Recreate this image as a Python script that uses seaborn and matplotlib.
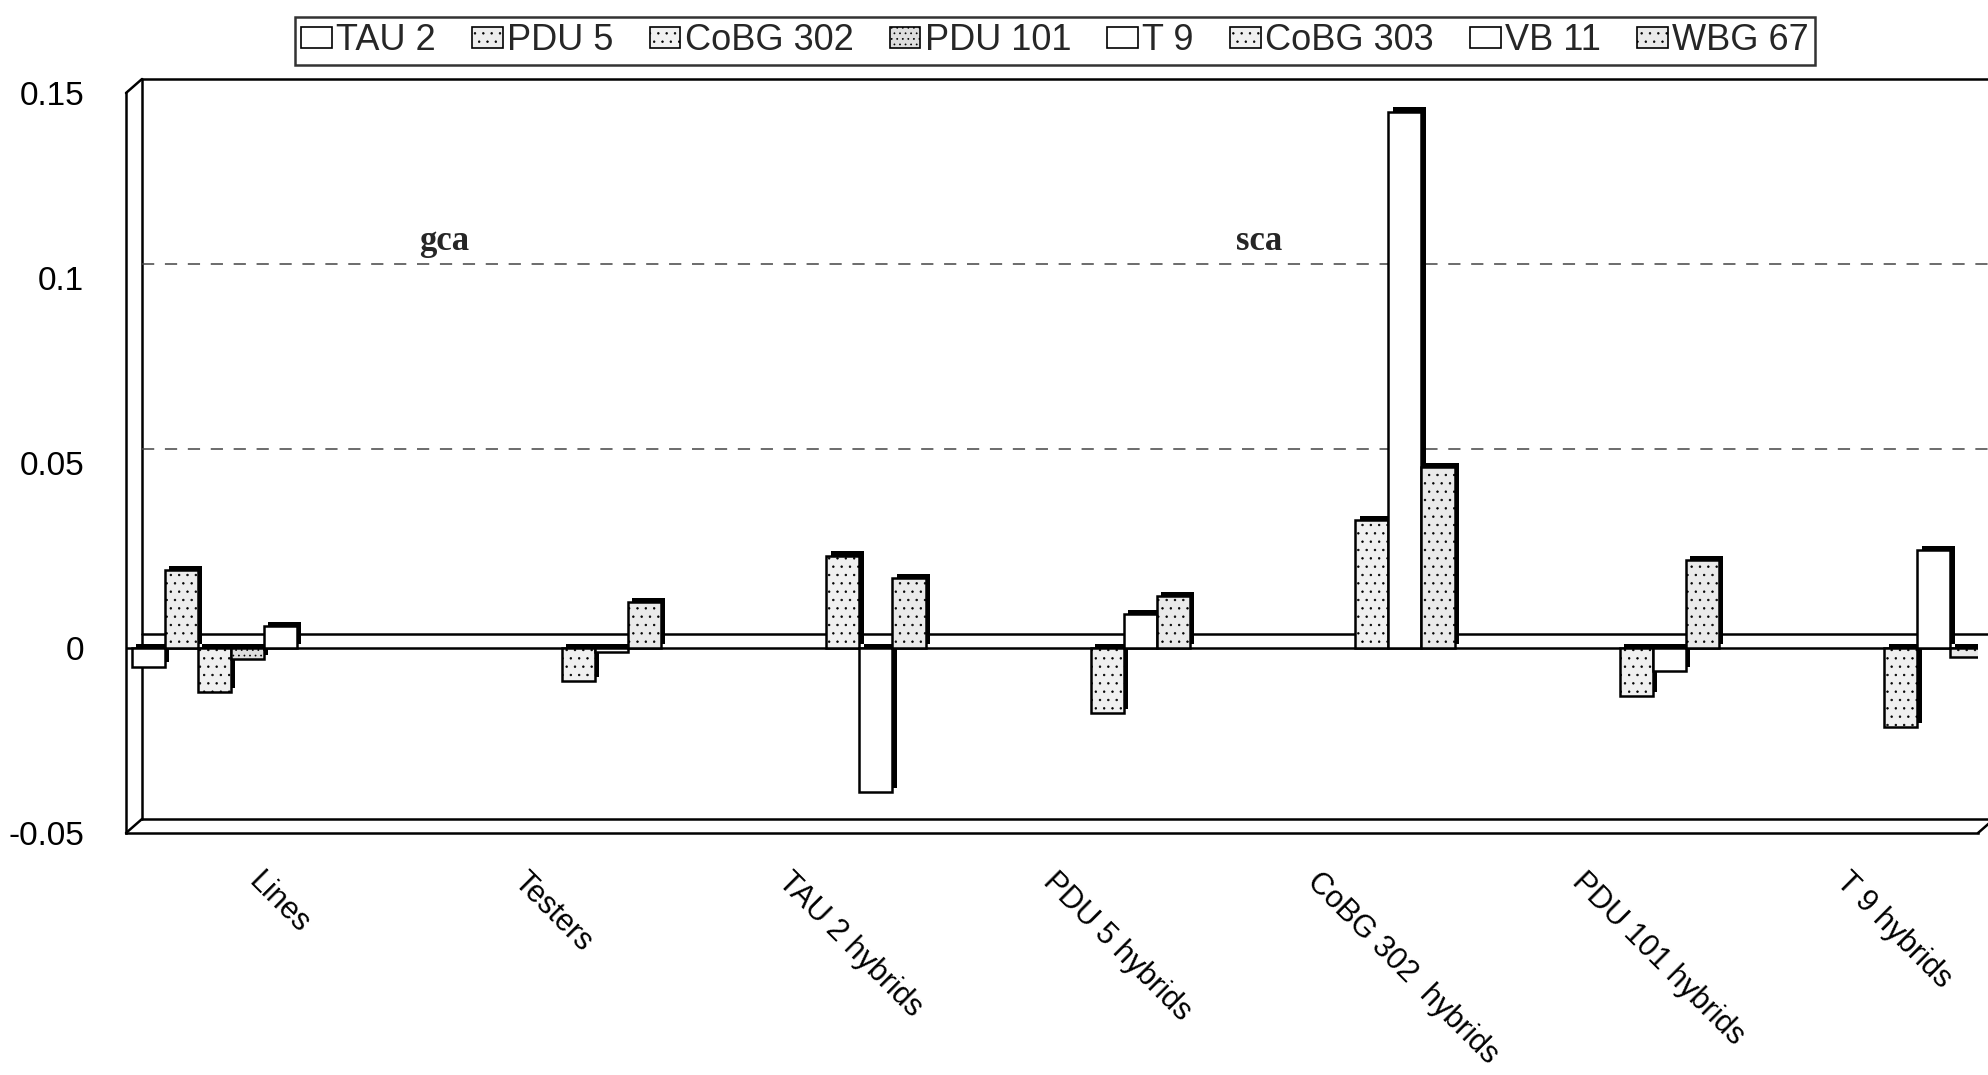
import numpy as np
import pandas as pd
import seaborn as sns
import matplotlib
matplotlib.use("Agg")
import matplotlib.pyplot as plt
import matplotlib.patheffects as pe
from matplotlib.patches import Patch
from matplotlib.lines import Line2D
from matplotlib.transforms import ScaledTranslation

# ---------------- data ----------------
categories = ["Lines", "Testers", "TAU 2 hybrids", "PDU 5 hybrids",
              "CoBG 302  hybrids", "PDU 101 hybrids", "T 9 hybrids"]
series = ["TAU 2", "PDU 5", "CoBG 302", "PDU 101", "T 9", "CoBG 303", "VB 11", "WBG 67"]
nan = np.nan
tau2 = [-0.005, nan, nan, nan, nan, nan, nan]
pdu5 = [0.021, nan, nan, nan, nan, nan, nan]
cobg302 = [-0.012, nan, nan, nan, nan, nan, nan]
pdu101 = [-0.003, nan, nan, nan, nan, nan, nan]
t9 = [0.006, nan, nan, nan, nan, nan, nan]
cobg303 = [nan, -0.009, 0.025, -0.0176, 0.0346, -0.013, -0.0214]
vb11 = [nan, -0.001, -0.039, 0.0092, 0.145, -0.0062, 0.0265]
wbg67 = [nan, 0.0125, 0.019, 0.014, 0.0488, 0.0238, -0.0023]
yticks = [-0.05, 0, 0.05, 0.1, 0.15]
ytick_labels = ["-0.05", "0", "0.05", "0.1", "0.15"]

values = [tau2, pdu5, cobg302, pdu101, t9, cobg303, vb11, wbg67]
df = pd.DataFrame(
    [(c, s, v) for s, vals in zip(series, values) for c, v in zip(categories, vals)],
    columns=["category", "series", "value"],
).dropna()

# ---------------- style ----------------
face = ["#ffffff", "#ededed", "#f0f0f0", "#dedede", "#ffffff", "#f0f0f0", "#ffffff", "#eaeaea"]
hatch = [None, "..", "..", "...", None, "..", None, ".."]

sns.set_theme(style="white")
plt.rcParams["font.family"] = ["Liberation Sans", "DejaVu Sans"]
plt.rcParams["hatch.color"] = "#9a9a9a"
plt.rcParams["hatch.linewidth"] = 0.5

W, H = 1988, 1075
fig = plt.figure(figsize=(W / 100, H / 100), dpi=100)
ax_left, ax_right, ax_top, ax_bot = 126, 1978, 93, 833
ax = fig.add_axes([ax_left / W, 1 - ax_bot / H, (ax_right - ax_left) / W, (ax_bot - ax_top) / H])

sns.barplot(data=df, x="category", y="value", hue="series", order=categories,
            hue_order=series, palette=face, width=1.0, edgecolor="black",
            linewidth=1.8, legend=False, ax=ax, zorder=3, err_kws={"linewidth": 0})

shadow = [pe.SimplePatchShadow(offset=(3.0, 3.0), shadow_rgbFace="black", alpha=1.0), pe.Normal()]
for cont, h in zip(ax.containers, hatch):
    for p in cont.patches:
        if h:
            p.set_hatch(h)
        p.set_path_effects(shadow)

ax.set_xlim(-0.5227, 6.479)
ax.set_ylim(-0.05, 0.15)
ax.set_yticks(yticks)
ax.set_yticklabels(ytick_labels)
ax.set_xlabel("")
ax.set_ylabel("")
ax.tick_params(axis="y", length=0, pad=30, labelsize=24, colors="black")
ax.tick_params(axis="x", length=0, pad=24, labelsize=22, colors="black")
for lab in ax.get_xticklabels():
    lab.set_rotation(-45)
    lab.set_ha("left")
    lab.set_va("top")
    lab.set_rotation_mode("anchor")

for s in ["top", "right"]:
    ax.spines[s].set_visible(False)
for s in ["left", "bottom"]:
    ax.spines[s].set_color("black")
    ax.spines[s].set_linewidth(1.8)

# 3D back wall / floor decoration (offset up-right)
off = ScaledTranslation(0.16, 0.14, fig.dpi_scale_trans)
tb = ax.transAxes + off
ty = ax.get_yaxis_transform()
lk = dict(color="black", linewidth=1.8, clip_on=False, zorder=1)
ax.add_line(Line2D([0, 1.02], [1, 1], transform=tb, **lk))
ax.add_line(Line2D([0, 0], [0, 1], transform=tb, **lk))
ax.add_line(Line2D([0, 1.02], [0, 0], transform=tb, **lk))
for (xx, yy) in ((0, 0), (0, 1), (1, 0)):
    p0 = ax.transAxes.transform((xx, yy))
    p1 = tb.transform((xx, yy))
    fig.add_artist(Line2D([p0[0] / W, p1[0] / W], [p0[1] / H, p1[1] / H],
                          transform=fig.transFigure, color="black", linewidth=1.8))
# zero floor (front and back edges)
ax.add_line(Line2D([0, 1], [0, 0], transform=ty, color="black", linewidth=1.8, zorder=2))
ax.add_line(Line2D([0, 1.02], [0, 0], transform=ty + off, color="black", linewidth=1.8,
                   zorder=2, clip_on=False))
# dashed gridlines on back wall
for g in (0.05, 0.1):
    ax.add_line(Line2D([0, 1.02], [g, g], transform=ty + off, color="#444444",
                       linewidth=1.1, linestyle=(0, (8, 7)), zorder=1, clip_on=False))

# annotations
for xa, txt in ((0.172, "gca"), (0.612, "sca")):
    ax.text(xa, 0.80, txt, transform=ax.transAxes, fontsize=25, fontweight="bold",
            family=["Liberation Serif", "DejaVu Serif"], ha="center", va="center")

# legend
handles = [Patch(facecolor=f, edgecolor="black", hatch=h, linewidth=1.2, label=s)
           for f, h, s in zip(face, hatch, series)]
leg = fig.legend(handles=handles, loc="center", bbox_to_anchor=(1055 / W, 1 - 41 / H),
                 ncol=8, frameon=True, fancybox=False, fontsize=26,
                 handlelength=0.85, handleheight=0.5, handletextpad=0.12,
                 columnspacing=1.0, borderpad=0.18, borderaxespad=0)
leg.get_frame().set_edgecolor("black")
leg.get_frame().set_linewidth(1.8)

fig.savefig("out.png", dpi=100)
